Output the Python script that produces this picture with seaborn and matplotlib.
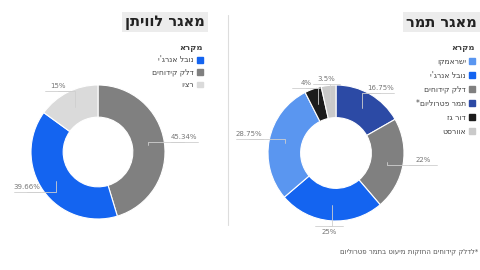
import numpy as np
import matplotlib
matplotlib.use("Agg")
import matplotlib.pyplot as plt
import seaborn as sns
from matplotlib.patches import Patch

sns.set_style("white")
plt.rcParams["font.family"] = ["DejaVu Sans"]

# data (logical hebrew order, reversed for display since matplotlib has no bidi)
lev_names = ["דלק קידוחים", "נובל אנרג'י", "רציו"]
lev_values = [45.34, 39.66, 15]
lev_colors = ["#808080", "#1464f0", "#dadada"]
lev_legend = ["נובל אנרג'י", "דלק קידוחים", "רציו"]

tamar_names = ["תמר פטרוליום*", "דלק קידוחים", "נובל אנרג'י", "ישראמקו", "דור גז", "אוורסט"]
tamar_values = [16.75, 22, 25, 28.75, 4, 3.5]
tamar_colors = ["#2c4aa5", "#808080", "#1464f0", "#5a96f0", "#1c1c1c", "#cacaca"]
tamar_legend = ["ישראמקו", "נובל אנרג'י", "דלק קידוחים", "תמר פטרוליום*", "דור גז", "אוורסט"]

lev_title = "מאגר לוויתן"
tamar_title = "מאגר תמר"
legend_title = "מקרא"
footnote = "*לדלק קידוחים החזקות מיעוט בתמר פטרוליום"


def rtl(s):
    return s[::-1]


W, H = 480, 270
fig = plt.figure(figsize=(W / 100, H / 100), dpi=100)
fig.patch.set_facecolor("white")


def donut(cx, cy, r, values, colors):
    half = 110
    ax = fig.add_axes([(cx - half) / W, (H - cy - half) / H, 2 * half / W, 2 * half / H])
    lim = half / r
    ax.pie(values, colors=colors, startangle=90, counterclock=False, radius=1,
           wedgeprops=dict(width=0.48, edgecolor="white", linewidth=0.8))
    ax.set_xlim(-lim, lim)
    ax.set_ylim(-lim, lim)
    ax.set_aspect("equal")
    ax.axis("off")
    # labels with leader lines
    start = 0
    for v in values:
        mid = np.deg2rad((start + v / 2) * 3.6)
        start += v
        sx, sy = np.sin(mid), np.cos(mid)
        lx, ly = 1.3 * sx, 1.02 * sy
        txt = ("%g" % v) + "%"
        if sy < -0.6:
            ly = 1.08 * sy
            ax.text(lx, ly - 0.04, txt, ha="center", va="top", fontsize=5, color="#777777")
        else:
            ax.text(lx, ly + 0.03, txt, ha="center", va="bottom", fontsize=5, color="#777777")
        ax.plot([0.76 * sx, 0.76 * sx, lx], [0.76 * sy, ly, ly], color="#cfcfcf", lw=0.6)
        ax.plot([lx - 0.2, lx + 0.2], [ly, ly], color="#cfcfcf", lw=0.6)
    return ax


donut(98, 152, 67, lev_values, lev_colors)
donut(336, 153, 68, tamar_values, tamar_colors)

# titles
for x, t in [(205, lev_title), (477, tamar_title)]:
    fig.text(x / W, 1 - 22 / H, rtl(t), ha="right", va="center", fontsize=10.5,
             fontweight="bold", color="#222222",
             bbox=dict(boxstyle="square,pad=0.2", fc="#ececec", ec="none"))

# separator
fig.add_artist(plt.Line2D([228 / W, 228 / W], [1 - 15 / H, 1 - 225 / H], color="#dddddd", lw=0.8))


def legend(x, y, labels, colors_map, spacing):
    handles = [Patch(color=colors_map[l]) for l in labels]
    lg = fig.legend(handles, [rtl(l) for l in labels], loc="upper right",
                    bbox_to_anchor=(x / W, 1 - y / H), frameon=False, markerfirst=False,
                    fontsize=5.5, title=rtl(legend_title), title_fontsize=6,
                    alignment="right", handlelength=0.8, handleheight=0.8,
                    handletextpad=0.4, labelspacing=spacing, borderpad=0)
    lg.get_title().set_color("#444444")
    lg.get_title().set_fontweight("bold")
    for t in lg.get_texts():
        t.set_color("#444444")
    return lg


legend(207, 39, lev_legend, dict(zip(lev_names, lev_colors)), 0.45)
legend(479, 39, tamar_legend, dict(zip(tamar_names, tamar_colors)), 0.65)

fig.text(478 / W, 1 - 252 / H, rtl(footnote), ha="right", va="center", fontsize=5, color="#555555")

fig.savefig("out.png", dpi=100)
